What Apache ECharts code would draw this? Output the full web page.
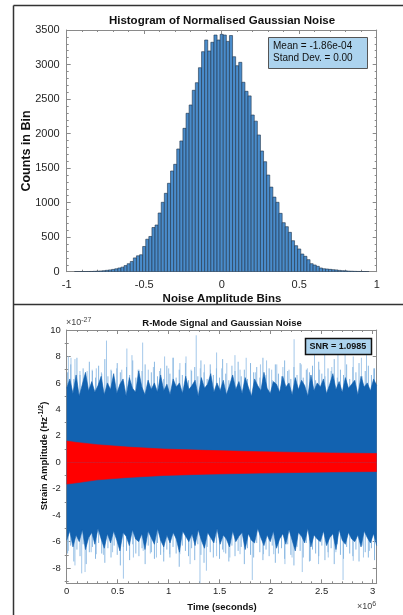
<!DOCTYPE html>
<html><head><meta charset="utf-8">
<script src="https://cdn.jsdelivr.net/npm/echarts@6/dist/echarts.min.js"></script>
<style>html,body{margin:0;padding:0;background:#fff}#c{width:403px;height:615px}</style>
</head><body><div id="c"></div>
<script>
// ---------- Histogram data ----------
const HIST_FIRST_CENTER = -0.94;
const HIST_BIN_WIDTH = 0.02;
const histCounts = [1,1,2,2,3,4,6,8,11,15,20,26,33,42,54,66,88,116,148,200,230,245,365,470,510,640,676,850,1005,1135,1280,1458,1555,1777,1893,2076,2294,2414,2627,2737,2954,3186,3355,3196,3322,3427,3355,
3437,
3427,3335,3420,3113,2983,3032,2743,2612,2546,2269,2180,1980,1748,1593,1400,1225,1080,1005,845,710,652,570,449,377,329,256,223,174,116,97,78,54,43,39,34,29,26,19,15,12,9,7,5,4,3,2,1];
const histXTicks = [-1,-0.5,0,0.5,1];
const histYTicks = [0,500,1000,1500,2000,2500,3000,3500];
const histStats = ['Mean = -1.86e-04','Stand Dev. = 0.00'];

// ---------- Signal + noise data (units: 1e-27 strain, 1e6 s) ----------
const T_MAX = 3.04;
const timeTicks = [0,0.5,1,1.5,2,2.5,3];
const strainTicks = [-8,-6,-4,-2,0,2,4,6,8,10];
const strainMinorTicks = [-9,-7,-5,-3,-1,1,3,5,7,9];
const snrText = 'SNR = 1.0985';
// isolated light-blue noise peaks
const spikeUpT = [0.016,0.042,0.081,0.13,0.20,0.25,0.29,0.34,0.39,0.44,0.49,0.54,0.59,0.64,0.70,0.745,0.80,0.85,0.91,0.96,1.00,1.045,1.11,1.17,1.22,1.27,1.31,1.35,1.41,1.47,1.52,1.57,1.65,1.70,1.76,1.85,1.90,1.96,2.01,2.06,2.12,2.18,2.23,2.30,2.36,2.43,2.48,2.53,2.60,2.66,2.73,2.81,2.89,2.94,3.01];
const spikeUpV = [8.0,7.9,7.8,6.9,6.9,7.0,7.1,6.8,9.2,6.9,7.1,7.0,8.6,8.1,7.0,9.05,7.0,7.2,6.9,8.0,7.1,7.9,7.5,8.0,7.0,9.6,7.1,7.4,7.0,8.3,7.1,7.5,8.1,7.0,7.9,6.8,7.4,7.7,7.0,7.4,7.2,7.0,9.3,7.4,7.1,8.6,7.0,8.2,7.2,8.4,8.4,8.0,7.9,8.1,7.1];
const spikeDownT = [0.016,0.081,0.147,0.18,0.24,0.29,0.36,0.45,0.556,0.654,0.75,0.82,0.88,0.95,1.01,1.11,1.21,1.307,1.37,1.47,1.54,1.60,1.70,1.82,1.93,2.03,2.14,2.21,2.31,2.39,2.47,2.565,2.64,2.71,2.81,2.91,2.97];
const spikeDownV = [-6.7,-7.8,-8.4,-8.3,-6.8,-6.95,-7.0,-6.8,-8.8,-7.2,-6.7,-6.9,-7.2,-6.8,-6.95,-6.95,-7.7,-9.15,-8.2,-7.1,-6.8,-7.2,-6.95,-8.9,-6.95,-6.95,-7.7,-7.2,-8.3,-7.45,-7.7,-7.2,-6.8,-8.9,-7.45,-7.2,-6.7];
// fringe of frequent excursions above the dense band, sampled evenly across the record
const fringeUp = [6.8,7.4,6.3,7.9,6.6,7.1,6.2,7.6,6.9,6.4,7.3,6.7,7.8,6.5,7.0,6.3,7.5,6.8,6.1,7.2,6.6,7.7,6.4,7.0,6.9,7.4,6.2,6.8,7.6,6.5,7.1,6.3,7.3,6.7,7.9,6.4,7.0,6.6,7.5,6.2,6.9,7.2,6.5,7.7,6.8,6.3,7.4,6.6,7.1,6.4,7.8,6.7,6.2,7.3,6.9,7.6,6.5,7.0,6.3,7.5,6.8,7.2,6.4,7.9,6.6,7.1,6.2,7.4,6.7,6.5,7.7,6.9,6.3,7.2,6.6,7.5,6.4,7.0,6.8,7.3,6.2,7.6,6.7,6.5,7.1,6.9,7.8,6.4,7.0,6.6,7.4,6.3,7.2,6.8,7.5,6.5,6.9,7.3,6.6,7.1];
const fringeDown = [-6.9,-6.3,-7.5,-6.6,-7.1,-6.2,-7.7,-6.8,-6.4,-7.3,-6.1,-6.9,-7.6,-6.5,-7.2,-6.3,-7.0,-7.8,-6.4,-6.7,-7.4,-6.2,-6.9,-7.1,-6.5,-7.7,-6.3,-6.8,-7.3,-6.1,-7.0,-7.5,-6.6,-7.2,-6.4,-6.9,-7.9,-6.3,-6.7,-7.1,-6.5,-7.4,-6.2,-7.0,-7.6,-6.4,-6.8,-7.2,-6.1,-7.3,-6.6,-6.9,-7.5,-6.3,-7.1,-6.7,-6.4,-7.7,-6.5,-7.0,-7.2,-6.1,-6.8,-7.4,-6.6,-7.1,-6.3,-7.6,-6.9,-6.5,-7.3,-6.2,-7.0,-7.8,-6.4,-6.7,-7.2,-6.1,-7.5,-6.6,-6.9,-7.1,-6.3,-7.4,-6.8,-6.5,-7.7,-6.2,-7.0,-7.3,-6.4,-6.9,-7.1,-6.6,-7.5,-6.3,-6.8,-7.2,-6.5,-7.4];
// jagged edge of the dense (dark) noise band, sampled evenly across the record
const noiseEdgeUp = [5.6,6.3,5.2,6.6,5.0,5.9,6.8,5.4,6.1,5.3,5.8,6.5,5.1,6.0,5.5,6.7,5.2,5.9,6.3,5.0,6.4,5.6,5.3,6.9,5.7,5.1,6.2,5.5,6.0,5.3,6.6,5.4,5.9,5.1,6.3,5.7,6.0,5.2,6.5,5.5,5.8,6.2,5.0,6.4,5.6,5.9,6.7,5.3,6.0,5.4,6.2,5.1,5.8,6.6,5.5,6.1,5.2,6.4,5.7,5.0,6.3,5.8,5.4,6.8,5.6,5.2,6.1,5.9,5.3,6.5,5.7,6.0,5.1,6.4,5.5,6.2,5.8,5.0,6.6,5.4,6.0,5.7,6.3,5.2,5.9,6.7,5.5,6.1,5.3,6.4,5.6,5.9,6.2,5.1,6.5,5.7,6.0,5.4,6.3,5.8];
const noiseEdgeDown = [-5.9,-5.2,-6.4,-5.5,-6.0,-5.1,-6.6,-5.7,-5.3,-6.2,-5.0,-5.8,-6.5,-5.4,-6.1,-5.2,-5.9,-6.7,-5.3,-5.6,-6.3,-5.1,-5.8,-6.0,-5.4,-6.6,-5.2,-5.7,-6.2,-5.0,-5.9,-6.4,-5.5,-6.1,-5.3,-5.8,-6.8,-5.2,-5.6,-6.0,-5.4,-6.3,-5.1,-5.9,-6.5,-5.3,-5.7,-6.1,-5.0,-6.2,-5.5,-5.8,-6.4,-5.2,-6.0,-5.6,-5.3,-6.6,-5.4,-5.9,-6.1,-5.0,-5.7,-6.3,-5.5,-6.0,-5.2,-6.5,-5.8,-5.4,-6.2,-5.1,-5.9,-6.7,-5.3,-5.6,-6.1,-5.0,-6.4,-5.5,-5.8,-6.0,-5.2,-6.3,-5.7,-5.4,-6.6,-5.1,-5.9,-6.2,-5.3,-5.8,-6.0,-5.5,-6.4,-5.2,-5.7,-6.1,-5.4,-6.3];
// R-mode signal envelope
const signalT = [0,0.1,0.3,0.6,0.95,1.37,1.9,2.28,2.6,3.04];
const signalUp = [1.6,1.5,1.33,1.15,1.0,0.9,0.8,0.74,0.7,0.66];
const signalDown = [-1.65,-1.55,-1.33,-1.15,-1.0,-0.9,-0.82,-0.77,-0.73,-0.7];

const FONT = '"Liberation Sans", Arial, Helvetica, sans-serif';
const AX = '#8a8a8a', TXT = '#262626';

const chart = echarts.init(document.getElementById('c'), null, {renderer:'canvas'});

function needleSeries(ts, vs, color, width, z) {
  return {
    type:'custom', xAxisIndex:2, yAxisIndex:2, clip:true, z:z, silent:true,
    data: ts.map((t,i)=>[t, vs[i]]),
    renderItem:(params, api)=>{
      const a = api.coord([api.value(0), 0]);
      const b = api.coord([api.value(0), api.value(1)]);
      return {type:'line', shape:{x1:a[0],y1:a[1],x2:b[0],y2:b[1]}, style:{stroke:color, lineWidth:width}};
    }
  };
}
function areaSeries(ts, vs, color, z) {
  return {type:'line', xAxisIndex:2, yAxisIndex:2, z:z, silent:true, showSymbol:false, symbol:'none',
    data: ts.map((t,i)=>[t, vs[i]]), lineStyle:{width:0.6, color:color}, areaStyle:{color:color, opacity:1}};
}
const edgeT = noiseEdgeUp.map((_, i) => i * T_MAX / (noiseEdgeUp.length - 1));
const fringeT = fringeUp.map((_, i) => (i + 0.3) * T_MAX / fringeUp.length);

function baseAxis(grid, extra) {
  return Object.assign({
    gridIndex:grid, type:'value', splitLine:{show:false},
    axisLine:{show:true, onZero:false, lineStyle:{color:AX, width:1}},
    axisTick:{show:true, inside:true, length:4, lineStyle:{color:AX}},
    minorTick:{show:true, splitNumber:5, length:2, lineStyle:{color:AX}},
    axisLabel:{show:true, color:TXT, fontFamily:FONT}
  }, extra);
}
const plain = v => String(v);

const option = {
  animation:false,
  backgroundColor:'#fff',
  grid:[
    {left:66.7, top:30, width:310, height:241.7},
    {left:66.7, top:330, width:310, height:253.3}
  ],
  xAxis:[
    baseAxis(0,{min:-1, max:1, interval:0.5, axisLabel:{color:TXT, fontFamily:FONT, fontSize:11, margin:8, formatter:plain}}),
    baseAxis(0,{min:-1, max:1, interval:0.5, position:'top', axisLabel:{show:false}}),
    baseAxis(1,{min:0, max:T_MAX, interval:0.5, axisLabel:{color:TXT, fontFamily:FONT, fontSize:9.5, margin:3, showMaxLabel:false, formatter:plain}}),
    baseAxis(1,{min:0, max:T_MAX, interval:0.5, position:'top', axisLabel:{show:false}})
  ],
  yAxis:[
    baseAxis(0,{min:0, max:3500, interval:500, axisLabel:{color:TXT, fontFamily:FONT, fontSize:11, margin:7, formatter:plain}}),
    baseAxis(0,{min:0, max:3500, interval:500, position:'right', axisLabel:{show:false}}),
    baseAxis(1,{min:-9.15, max:10, minorTick:{show:false},
      axisTick:{show:true, inside:true, length:4, lineStyle:{color:AX}, customValues:strainTicks},
      axisLabel:{color:TXT, fontFamily:FONT, fontSize:9.5, margin:6, customValues:strainTicks, formatter:plain}}),
    baseAxis(1,{min:-9.15, max:10, position:'right', minorTick:{show:false},
      axisTick:{show:true, inside:true, length:4, lineStyle:{color:AX}, customValues:strainTicks},
      axisLabel:{show:false}}),
    baseAxis(1,{min:-9.15, max:10, position:'left', minorTick:{show:false}, axisLine:{show:false},
      axisTick:{show:true, inside:true, length:2, lineStyle:{color:AX}, customValues:strainMinorTicks},
      axisLabel:{show:false}}),
    baseAxis(1,{min:-9.15, max:10, position:'right', minorTick:{show:false}, axisLine:{show:false},
      axisTick:{show:true, inside:true, length:2, lineStyle:{color:AX}, customValues:strainMinorTicks},
      axisLabel:{show:false}})
  ],
  series:[
    {
      type:'custom', xAxisIndex:0, yAxisIndex:0, clip:true, silent:true,
      data: histCounts.map((c,i)=>[HIST_FIRST_CENTER + i*HIST_BIN_WIDTH, c]),
      renderItem:(params, api)=>{
        const c = api.value(0), v = api.value(1);
        const p0 = api.coord([c - HIST_BIN_WIDTH/2, v]);
        const p1 = api.coord([c + HIST_BIN_WIDTH/2, 0]);
        return {type:'rect', shape:{x:p0[0], y:p0[1], width:p1[0]-p0[0], height:p1[1]-p0[1]},
          style:{fill:'#4a8ccb', stroke:'#1f3348', lineWidth:0.6}};
      }
    },
    needleSeries(spikeUpT, spikeUpV, '#a4c8ea', 1, 1),
    needleSeries(spikeDownT, spikeDownV, '#a4c8ea', 1, 1),
    needleSeries(fringeT, fringeUp, '#8ab8e2', 1, 1),
    needleSeries(fringeT, fringeDown, '#8ab8e2', 1, 1),
    areaSeries(edgeT, noiseEdgeUp, '#1262b0', 3),
    areaSeries(edgeT, noiseEdgeDown, '#1262b0', 3),
    areaSeries(signalT, signalUp, '#ff0000', 4),
    areaSeries(signalT, signalDown, '#ff0000', 4)
  ],
  graphic:[
    {type:'line', shape:{x1:13.5, y1:5.5, x2:403, y2:5.5}, style:{stroke:'#333', lineWidth:1.5}, z:100},
    {type:'line', shape:{x1:13.5, y1:5.5, x2:13.5, y2:615}, style:{stroke:'#333', lineWidth:1.5}, z:100},
    {type:'line', shape:{x1:13.5, y1:304.5, x2:403, y2:304.5}, style:{stroke:'#333', lineWidth:1.5}, z:100},
    {type:'text', x:222, y:21, style:{text:'Histogram of Normalised Gaussian Noise', font:'bold 11.5px '+FONT, fill:'#111', align:'center', verticalAlign:'middle'}},
    {type:'text', x:27, y:151, rotation:Math.PI/2, style:{text:'Counts in Bin', font:'bold 12.5px '+FONT, fill:'#111', align:'center', verticalAlign:'middle'}},
    {type:'text', x:222, y:299, style:{text:'Noise Amplitude Bins', font:'bold 11.5px '+FONT, fill:'#111', align:'center', verticalAlign:'middle'}},
    {type:'rect', shape:{x:268.5, y:37.5, width:99, height:31}, style:{fill:'#acd3ee', stroke:'#555', lineWidth:1}, z:50},
    {type:'text', x:273, y:46.5, z:51, style:{text:histStats[0], font:'10px '+FONT, fill:'#111', verticalAlign:'middle'}},
    {type:'text', x:273, y:58.5, z:51, style:{text:histStats[1], font:'10px '+FONT, fill:'#111', verticalAlign:'middle'}},
    {type:'text', x:222, y:323, style:{text:'R-Mode Signal and Gaussian Noise', font:'bold 9.5px '+FONT, fill:'#111', align:'center', verticalAlign:'middle'}},
    {type:'text', x:66, y:323, style:{text:'{a|×10}{b|-27}', rich:{a:{font:'9px '+FONT, fill:'#444'}, b:{font:'7px '+FONT, fill:'#444', padding:[0,0,6,0]}}, verticalAlign:'middle'}},
    {type:'rect', shape:{x:305.5, y:338.5, width:66, height:16}, style:{fill:'#acd3ee', stroke:'#111', lineWidth:1.5}, z:50},
    {type:'text', x:309.5, y:346.5, z:51, style:{text:snrText, font:'bold 9px '+FONT, fill:'#111', verticalAlign:'middle'}},
    {type:'text', x:222, y:607, style:{text:'Time (seconds)', font:'bold 9.5px '+FONT, fill:'#111', align:'center', verticalAlign:'middle'}},
    {type:'text', x:357, y:607, style:{text:'{a|×10}{b|6}', rich:{a:{font:'9px '+FONT, fill:'#444'}, b:{font:'7px '+FONT, fill:'#444', padding:[0,0,6,0]}}, verticalAlign:'middle'}},
    {type:'text', x:44, y:456, rotation:Math.PI/2, style:{text:'{a|Strain Amplitude (Hz}{b|-1/2}{a|)}', rich:{a:{font:'bold 9.5px '+FONT, fill:'#111'}, b:{font:'bold 7px '+FONT, fill:'#111', padding:[0,0,6,0]}}, align:'center', verticalAlign:'middle'}}
  ]
};
chart.setOption(option);
</script></body></html>
